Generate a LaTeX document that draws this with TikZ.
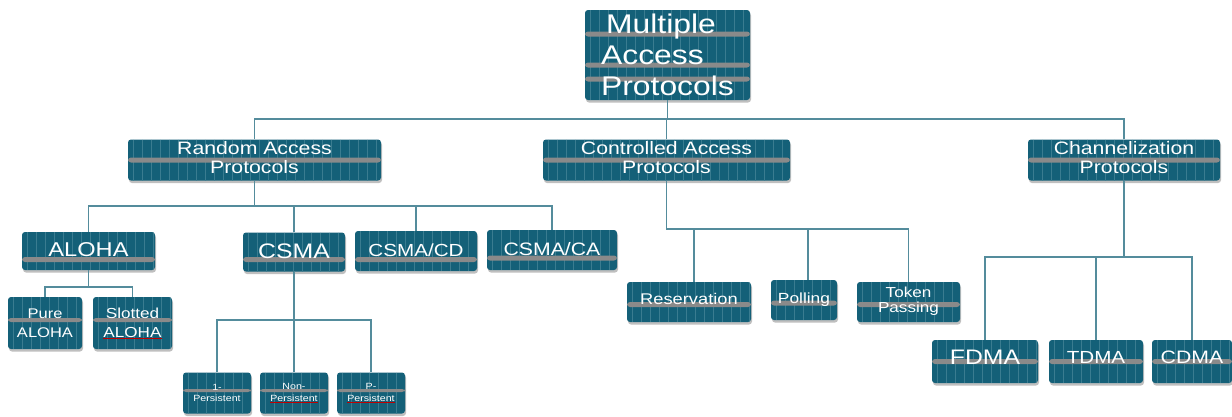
\documentclass[tikz,border=0pt]{standalone}
\usepackage{fontspec}
\setmainfont[FakeStretch=1.18]{Liberation Sans}
\usetikzlibrary{shadows}

\definecolor{tealbox}{RGB}{20,96,120}
\definecolor{tealstripe}{RGB}{58,124,144}
\definecolor{bandgrey}{RGB}{138,138,138}
\definecolor{wire}{RGB}{84,140,156}

% extra depth below the last line lifts the text block a little
\newcommand\lowerpad[1]{\rule[-#1pt]{0pt}{#1pt}}
% red spell-check underline
\newcommand\squig[1]{\setbox0\hbox{#1}\rlap{\textcolor{red!75!black}{\rule[-1.3pt]{\wd0}{0.6pt}}}\box0}
\newcommand\fs[2]{\fontsize{#1}{#2}\selectfont}

\tikzset{
  bands/.code={\def\bandlist{#1}},
  bandh/.code={\def\bandh{#1}},
  bands={0}, bandh={2.5pt},
  pbox/.style={rectangle, rounded corners=3pt, fill=tealbox, text=white,
    inner sep=0pt, align=center,
    drop shadow={shadow xshift=1pt, shadow yshift=-2.5pt, fill=black!55, opacity=.45},
    path picture={
      \foreach \k in {1,...,30}
        \draw[tealstripe, line width=.6pt]
          ([xshift=\k*9pt-4pt]path picture bounding box.north west) --
          ([xshift=\k*9pt-4pt]path picture bounding box.south west);
      \foreach \b in \bandlist
        \fill[bandgrey]
          ([yshift=\b pt-\bandh]path picture bounding box.west) rectangle
          ([yshift=\b pt+\bandh]path picture bounding box.east);
    }},
  wire/.style={draw=wire, line width=1.1pt},
}

\begin{document}
\begin{tikzpicture}[x=1pt, y=-1pt]
\fill[white] (0,0) rectangle (1232,416);
\useasboundingbox (0,0) rectangle (1232,416);

% root
\node[pbox, align=left, minimum width=165pt, minimum height=90pt, bands={21,-10,-24},
      font=\fs{27}{31}] (root) at (667.5,55) {\hspace*{5pt}Multiple\\Access\\Protocols};

% first level
\node[pbox, minimum width=253pt, minimum height=41pt, font=\fs{18}{19}]
  (rand) at (254.5,160) {Random Access\\Protocols\lowerpad{5}};
\node[pbox, minimum width=247pt, minimum height=41pt, font=\fs{18}{19}]
  (ctrl) at (666.5,160) {Controlled Access\\Protocols\lowerpad{5}};
\node[pbox, minimum width=192pt, minimum height=41pt, font=\fs{18}{19}]
  (chan) at (1124,160) {Channelization\\Protocols\lowerpad{5}};

% random access branch
\node[pbox, minimum width=133pt, minimum height=38pt, bands={-8.5}, font=\fs{20}{22}]
  (aloha) at (88.5,251) {ALOHA\lowerpad{2}};
\node[pbox, minimum width=102pt, minimum height=39pt, bands={-7.5}, font=\fs{21}{23}]
  (csma) at (294,252) {CSMA\lowerpad{2}};
\node[pbox, minimum width=122pt, minimum height=40pt, bands={-8.5}, font=\fs{17.5}{19}]
  (csmacd) at (416,251) {CSMA/CD\lowerpad{2}};
\node[pbox, minimum width=130pt, minimum height=40pt, bands={-8}, font=\fs{18}{19}]
  (csmaca) at (552,250) {CSMA/CA\lowerpad{2}};

\node[pbox, minimum width=74pt, minimum height=52pt, bands={3}, bandh=2pt, font=\fs{14}{19}]
  (pure) at (45,323) {Pure\\ALOHA};
\node[pbox, minimum width=79pt, minimum height=52pt, bands={3}, bandh=2pt, font=\fs{14.5}{19}]
  (slot) at (132.5,323) {Slotted\\\squig{ALOHA}};

\node[pbox, minimum width=68pt, minimum height=41pt, bands={2.5}, bandh=1.5pt, font=\fs{9}{11.5}]
  (p1) at (217,393) {1-\\Persistent};
\node[pbox, minimum width=68pt, minimum height=41pt, bands={2.5}, bandh=1.5pt, font=\fs{9}{11.5}]
  (pn) at (294,393) {Non-\\\squig{Persistent}};
\node[pbox, minimum width=68pt, minimum height=41pt, bands={2.5}, bandh=1.5pt, font=\fs{9}{11.5}]
  (pp) at (371,393) {P-\\\squig{Persistent}};

% controlled access branch
\node[pbox, minimum width=124pt, minimum height=40pt, bands={-2.5}, font=\fs{15.5}{17}]
  (res) at (689,302) {Reservation\lowerpad{6}};
\node[pbox, minimum width=66pt, minimum height=40pt, bands={-3}, font=\fs{14.7}{16}]
  (poll) at (804,300) {Polling\lowerpad{3}};
\node[pbox, minimum width=103pt, minimum height=40pt, bands={-2.5}, font=\fs{14.5}{15}]
  (tok) at (908.5,302) {Token\\Passing\lowerpad{5}};

% channelization branch
\node[pbox, minimum width=106pt, minimum height=43pt, font=\fs{21}{23}]
  (fdma) at (985,361.5) {FDMA\lowerpad{8}};
\node[pbox, minimum width=94pt, minimum height=43pt, font=\fs{17.5}{19}]
  (tdma) at (1096,361.5) {TDMA\lowerpad{8}};
\node[pbox, minimum width=80pt, minimum height=43pt, font=\fs{18}{19}]
  (cdma) at (1192,361.5) {CDMA\lowerpad{8}};

% bus lines
\coordinate (b1) at (667,119);
\coordinate (b2) at (255,206);
\coordinate (b3) at (89,287);
\coordinate (b4) at (294,320);
\coordinate (b5) at (667,229);
\coordinate (b6) at (1124,257);

\draw[wire] (root.south) -- (root.south |- b1);
\draw[wire] (rand.north) |- (chan.north |- b1) -- (chan.north);
\draw[wire] (ctrl.north) -- (ctrl.north |- b1);

\draw[wire] (rand.south) -- (rand.south |- b2);
\draw[wire] (aloha.north) |- (csmaca.north |- b2) -- (csmaca.north);
\draw[wire] (csma.north) -- (csma.north |- b2);
\draw[wire] (csmacd.north) -- (csmacd.north |- b2);

\draw[wire] (aloha.south) -- (aloha.south |- b3);
\draw[wire] (pure.north) |- (slot.north |- b3) -- (slot.north);

\draw[wire] (csma.south) -- (csma.south |- b4);
\draw[wire] (p1.north) |- (pp.north |- b4) -- (pp.north);
\draw[wire] (pn.north) -- (pn.north |- b4);

\draw[wire] (ctrl.south) |- (tok.north |- b5) -- (tok.north);
\draw[wire] ([xshift=5pt]res.north) -- ([xshift=5pt]res.north |- b5);
\draw[wire] ([xshift=4pt]poll.north) -- ([xshift=4pt]poll.north |- b5);

\draw[wire] (chan.south) -- (chan.south |- b6);
\draw[wire] (fdma.north) |- (cdma.north |- b6) -- (cdma.north);
\draw[wire] (tdma.north) -- (tdma.north |- b6);
\end{tikzpicture}
\end{document}
